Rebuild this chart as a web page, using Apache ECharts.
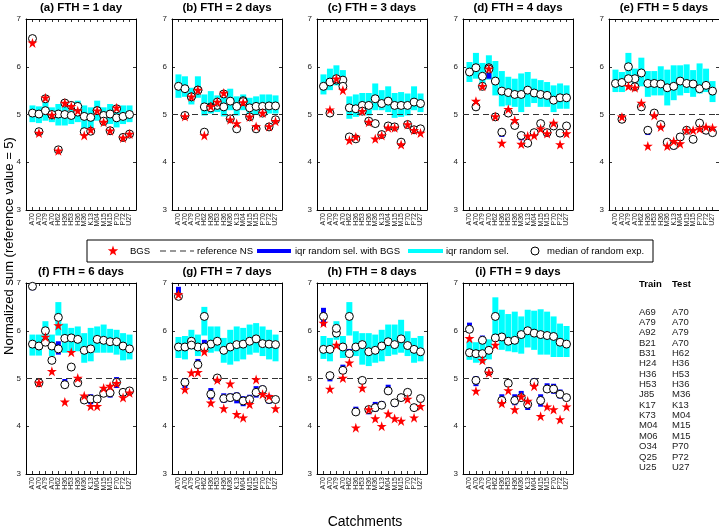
<!DOCTYPE html>
<html>
<head>
<meta charset="utf-8">
<script src="https://cdn.jsdelivr.net/npm/echarts@6/dist/echarts.min.js"></script>
<style>
  html, body { margin: 0; padding: 0; background: #fff; }
  #main { width: 719px; height: 532px; }
</style>
</head>
<body>
<div id="main"></div>
<script>
// catchments (test) on the x axis, train catchments for the side table
var testList = ['A70', 'A70', 'A79', 'A70', 'H62', 'H36', 'H53', 'H36', 'M36', 'K13', 'M04', 'M15', 'M15', 'P70', 'P72', 'U27'];
var trainList = ['A69', 'A79', 'A92', 'B21', 'B31', 'H24', 'H36', 'H53', 'J85', 'K17', 'K73', 'M04', 'M06', 'O34', 'Q25', 'U25'];
var panelTitles = ['(a) FTH = 1 day', '(b) FTH = 2 days', '(c) FTH = 3 days', '(d) FTH = 4 days', '(e) FTH = 5 days',
  '(f) FTH = 6 days', '(g) FTH = 7 days', '(h) FTH = 8 days', '(i) FTH = 9 days'];
var refValue = 5;

// (a) FTH = 1 day
var cyanLo_a = [4.84, 4.82, 4.87, 4.84, 4.77, 4.77, 4.80, 4.84, 4.70, 4.66, 4.87, 4.77, 4.80, 4.73, 4.80, 4.84];
var cyanHi_a = [5.19, 5.17, 5.26, 5.15, 5.22, 5.29, 5.26, 5.29, 5.19, 5.15, 5.29, 5.15, 5.22, 5.19, 5.19, 5.19];
var cyanMed_a = [5.03, 5.01, 5.08, 4.99, 5.01, 5.00, 4.98, 5.05, 4.96, 4.94, 5.08, 4.98, 5.01, 4.93, 4.96, 5.00];
var blueLo_a = [6.56, 4.61, 5.30, 4.97, 4.23, 5.21, 5.16, 5.14, 4.61, 4.62, 5.05, 4.83, 4.63, 5.09, 4.49, 4.56];
var blueHi_a = [6.62, 4.67, 5.36, 5.03, 4.29, 5.27, 5.22, 5.20, 4.67, 4.68, 5.11, 4.89, 4.69, 5.15, 4.55, 4.62];
var blueMed_a = [6.59, 4.64, 5.33, 5.00, 4.26, 5.24, 5.19, 5.17, 4.64, 4.65, 5.08, 4.86, 4.66, 5.12, 4.52, 4.59];
var bgs_a = [6.50, 4.61, 5.35, 4.99, 4.24, 5.24, 5.17, 5.08, 4.56, 4.68, 5.08, 4.84, 4.66, 5.14, 4.51, 4.59];

// (b) FTH = 2 days
var cyanLo_b = [5.35, 5.37, 5.21, 5.35, 4.98, 5.02, 5.05, 4.96, 5.09, 4.98, 5.09, 4.98, 5.00, 5.02, 5.02, 5.02];
var cyanHi_b = [5.84, 5.80, 5.56, 5.80, 5.42, 5.49, 5.40, 5.42, 5.54, 5.38, 5.42, 5.35, 5.38, 5.42, 5.42, 5.40];
var cyanMed_b = [5.59, 5.54, 5.37, 5.51, 5.16, 5.16, 5.19, 5.16, 5.28, 5.17, 5.29, 5.14, 5.17, 5.17, 5.18, 5.18];
var blueLo_b = [null, 4.95, 5.34, 5.48, 4.60, 5.11, 5.23, 5.40, 4.88, 4.67, 5.24, 4.92, 4.67, 5.00, 4.71, 4.86];
var blueHi_b = [null, 5.01, 5.40, 5.54, 4.66, 5.17, 5.29, 5.46, 4.94, 4.73, 5.30, 4.98, 4.73, 5.06, 4.77, 4.92];
var blueMed_b = [null, 4.98, 5.37, 5.51, 4.63, 5.14, 5.26, 5.43, 4.91, 4.70, 5.27, 4.95, 4.70, 5.03, 4.74, 4.89];
var bgs_b = [null, 4.96, 5.37, 5.51, 4.56, 5.17, 5.26, 5.45, 4.89, 4.81, 5.25, 4.95, 4.75, 5.03, 4.75, 4.86];

// (c) FTH = 3 days
var cyanLo_c = [5.42, 5.51, 5.61, 5.58, 4.91, 4.95, 5.02, 4.98, 5.09, 5.09, 5.05, 4.93, 4.95, 4.98, 5.09, 5.05];
var cyanHi_c = [5.84, 5.96, 6.03, 5.93, 5.38, 5.42, 5.45, 5.45, 5.65, 5.51, 5.59, 5.45, 5.47, 5.44, 5.59, 5.44];
var cyanMed_c = [5.59, 5.68, 5.72, 5.72, 5.14, 5.12, 5.19, 5.19, 5.33, 5.23, 5.28, 5.19, 5.19, 5.19, 5.26, 5.23];
var blueLo_c = [null, 5.00, 5.72, 5.56, 4.50, 4.46, 5.04, 4.83, 4.78, 4.55, 4.73, 4.71, 4.39, 4.76, 4.65, 4.67];
var blueHi_c = [null, 5.06, 5.78, 5.62, 4.56, 4.52, 5.10, 4.89, 4.84, 4.61, 4.79, 4.77, 4.45, 4.82, 4.71, 4.73];
var blueMed_c = [null, 5.03, 5.75, 5.59, 4.53, 4.49, 5.07, 4.86, 4.81, 4.58, 4.76, 4.74, 4.42, 4.79, 4.68, 4.70];
var bgs_c = [null, 5.10, 5.75, 5.51, 4.46, 4.53, 5.07, 4.84, 4.49, 4.56, 4.72, 4.72, 4.37, 4.79, 4.67, 4.61];

// (d) FTH = 4 days
var cyanLo_d = [5.68, 5.75, 5.58, 5.73, 5.40, 5.17, 5.19, 5.16, 5.05, 5.16, 5.24, 5.16, 5.16, 5.05, 5.12, 5.12];
var cyanHi_d = [6.10, 6.29, 6.08, 6.24, 6.12, 5.91, 5.79, 5.75, 5.86, 5.89, 5.75, 5.72, 5.68, 5.61, 5.65, 5.61];
var cyanMed_d = [5.89, 5.98, 5.80, 5.98, 5.70, 5.49, 5.46, 5.42, 5.42, 5.51, 5.45, 5.42, 5.40, 5.30, 5.35, 5.35];
var blueLo_d = [null, 5.10, 5.52, 5.75, 4.92, 4.53, 5.00, 4.74, 4.46, 4.32, 4.58, 4.74, 4.53, 4.73, 4.53, 4.73];
var blueHi_d = [null, 5.20, 5.65, 6.00, 5.02, 4.70, 5.06, 4.80, 4.60, 4.46, 4.67, 4.84, 4.67, 4.79, 4.65, 4.79];
var blueMed_d = [null, 5.16, 5.59, 5.95, 4.95, 4.63, 5.03, 4.77, 4.56, 4.40, 4.62, 4.81, 4.62, 4.76, 4.61, 4.76];
var bgs_d = [null, 5.28, 5.59, 5.96, 4.96, 4.40, 5.11, 4.88, 4.38, 4.55, 4.56, 4.70, 4.60, 4.82, 4.37, 4.60];

// (e) FTH = 5 days
var cyanLo_e = [5.47, 5.47, 5.72, 5.54, 5.59, 5.37, 5.40, 5.40, 5.19, 5.30, 5.40, 5.45, 5.37, 5.44, 5.47, 5.26];
var cyanHi_e = [5.94, 5.89, 6.29, 5.96, 6.19, 5.91, 5.91, 6.01, 5.94, 6.03, 6.03, 6.05, 5.93, 6.07, 5.96, 5.70];
var cyanMed_e = [5.65, 5.67, 6.00, 5.75, 5.87, 5.65, 5.65, 5.64, 5.56, 5.59, 5.70, 5.65, 5.64, 5.54, 5.61, 5.49];
var blueLo_e = [null, 4.86, 5.70, 5.54, 5.10, 4.57, 5.00, 4.70, 4.38, 4.27, 4.49, 4.61, 4.45, 4.79, 4.59, 4.59];
var blueHi_e = [null, 4.94, 5.80, 5.62, 5.20, 4.70, 5.06, 4.82, 4.46, 4.39, 4.60, 4.70, 4.51, 4.85, 4.70, 4.65];
var blueMed_e = [null, 4.90, 5.75, 5.58, 5.16, 4.67, 5.03, 4.79, 4.42, 4.35, 4.53, 4.67, 4.48, 4.82, 4.67, 4.62];
var bgs_e = [null, 4.95, 5.59, 5.56, 5.24, 4.34, 4.98, 4.74, 4.34, 4.44, 4.39, 4.67, 4.67, 4.70, 4.74, 4.72];

// (f) FTH = 6 days
var cyanLo_f = [5.48, 5.48, 5.71, 5.47, 5.90, 5.54, 5.57, 5.57, 5.33, 5.36, 5.54, 5.54, 5.54, 5.50, 5.38, 5.40];
var cyanHi_f = [5.92, 5.92, 6.20, 5.92, 6.60, 6.15, 6.06, 6.09, 5.95, 6.06, 6.09, 6.13, 6.04, 6.02, 5.95, 5.92];
var cyanMed_f = [5.72, 5.68, 6.00, 5.68, 6.28, 5.84, 5.85, 5.82, 5.59, 5.62, 5.82, 5.80, 5.77, 5.77, 5.68, 5.62];
var blueLo_f = [6.85, 4.84, 5.70, 5.33, 5.50, 4.80, 5.21, 4.84, 4.48, 4.46, 4.50, 4.64, 4.60, 4.80, 4.63, 4.67];
var blueHi_f = [6.97, 4.97, 5.82, 5.43, 5.78, 4.99, 5.27, 4.94, 4.60, 4.67, 4.63, 4.74, 4.75, 5.03, 4.76, 4.79];
var blueMed_f = [6.93, 4.91, 5.76, 5.38, 5.62, 4.87, 5.24, 4.91, 4.55, 4.57, 4.57, 4.69, 4.70, 4.92, 4.71, 4.74];
var bgs_f = [null, 4.91, 5.87, 5.15, 6.11, 4.51, 5.55, 5.01, 4.64, 4.42, 4.42, 4.80, 4.84, 4.90, 4.60, 4.70];

// (g) FTH = 7 days
var cyanLo_g = [5.43, 5.40, 5.61, 5.47, 5.90, 5.54, 5.57, 5.33, 5.29, 5.36, 5.40, 5.50, 5.54, 5.47, 5.40, 5.36];
var cyanHi_g = [5.87, 5.89, 6.02, 5.92, 6.50, 6.09, 6.09, 5.85, 6.02, 6.09, 6.06, 6.13, 6.16, 6.09, 6.02, 5.92];
var cyanMed_g = [5.66, 5.66, 5.78, 5.66, 6.30, 5.72, 5.78, 5.59, 5.66, 5.71, 5.72, 5.78, 5.83, 5.73, 5.72, 5.71];
var blueLo_g = [6.65, 4.80, 5.62, 5.26, 5.60, 4.56, 4.95, 4.49, 4.52, 4.48, 4.42, 4.47, 4.60, 4.68, 4.47, 4.50];
var blueHi_g = [6.92, 5.01, 5.75, 5.41, 5.81, 4.80, 5.06, 4.69, 4.69, 4.71, 4.63, 4.66, 4.84, 4.85, 4.66, 4.62];
var blueMed_g = [6.72, 4.92, 5.70, 5.29, 5.66, 4.67, 5.01, 4.58, 4.60, 4.62, 4.53, 4.56, 4.71, 4.77, 4.56, 4.56];
var bgs_g = [6.76, 4.77, 5.12, 5.13, 5.56, 4.49, 4.97, 4.37, 4.89, 4.25, 4.18, 4.46, 4.98, 4.67, 4.63, 4.37];

// (h) FTH = 8 days
var cyanLo_h = [5.41, 5.36, 5.81, 5.43, 5.90, 5.47, 5.29, 5.26, 5.33, 5.36, 5.47, 5.50, 5.54, 5.47, 5.33, 5.36];
var cyanHi_h = [5.89, 5.85, 6.20, 5.89, 6.60, 5.99, 5.95, 5.95, 5.92, 6.02, 6.13, 6.13, 6.23, 5.99, 5.85, 5.89];
var cyanMed_h = [5.61, 5.61, 5.95, 5.66, 6.30, 5.66, 5.71, 5.56, 5.59, 5.68, 5.77, 5.71, 5.83, 5.69, 5.61, 5.56];
var blueLo_h = [6.10, 4.94, 6.00, 5.12, 5.45, 4.25, 4.91, 4.25, 4.30, 4.37, 4.67, 4.41, 4.53, 4.64, 4.34, 4.53];
var blueHi_h = [6.48, 5.12, 6.12, 5.29, 5.62, 4.41, 5.01, 4.41, 4.51, 4.53, 4.87, 4.56, 4.67, 4.78, 4.44, 4.63];
var blueMed_h = [6.30, 5.06, 6.05, 5.17, 5.52, 4.30, 4.96, 4.35, 4.39, 4.44, 4.74, 4.49, 4.60, 4.71, 4.39, 4.58];
var bgs_h = [6.16, 4.78, 5.70, 5.01, 5.33, 3.97, 4.80, 4.35, 4.16, 4.00, 4.26, 4.16, 4.11, 4.57, 4.18, 4.42];

// (i) FTH = 9 days
var cyanLo_i = [5.39, 5.33, 5.33, 5.40, 5.90, 5.60, 5.57, 5.55, 5.52, 5.65, 5.60, 5.50, 5.50, 5.45, 5.45, 5.45];
var cyanHi_i = [5.78, 5.76, 5.75, 5.82, 6.70, 6.44, 6.35, 6.40, 6.30, 6.44, 6.42, 6.45, 6.40, 6.30, 6.15, 6.10];
var cyanMed_i = [5.54, 5.52, 5.52, 5.59, 6.30, 5.87, 5.78, 5.80, 5.92, 6.00, 5.95, 5.92, 5.90, 5.88, 5.76, 5.72];
var blueLo_i = [5.96, 4.84, 5.76, 5.08, 5.78, 4.49, 4.84, 4.44, 4.53, 4.34, 4.84, 4.41, 4.71, 4.68, 4.58, 4.53];
var blueHi_i = [6.17, 5.05, 5.90, 5.24, 5.92, 4.67, 4.97, 4.67, 4.74, 4.53, 5.01, 4.67, 4.90, 4.89, 4.77, 4.67];
var blueMed_i = [6.03, 4.96, 5.80, 5.15, 5.85, 4.54, 4.90, 4.54, 4.60, 4.46, 4.92, 4.54, 4.78, 4.78, 4.67, 4.60];
var bgs_i = [5.84, 4.74, 5.38, 5.12, 5.70, 4.48, 4.75, 4.35, 4.62, 4.53, 4.84, 4.21, 4.41, 4.35, 4.14, 4.41];

var panels = [
  [cyanLo_a, cyanHi_a, cyanMed_a, blueLo_a, blueHi_a, blueMed_a, bgs_a],
  [cyanLo_b, cyanHi_b, cyanMed_b, blueLo_b, blueHi_b, blueMed_b, bgs_b],
  [cyanLo_c, cyanHi_c, cyanMed_c, blueLo_c, blueHi_c, blueMed_c, bgs_c],
  [cyanLo_d, cyanHi_d, cyanMed_d, blueLo_d, blueHi_d, blueMed_d, bgs_d],
  [cyanLo_e, cyanHi_e, cyanMed_e, blueLo_e, blueHi_e, blueMed_e, bgs_e],
  [cyanLo_f, cyanHi_f, cyanMed_f, blueLo_f, blueHi_f, blueMed_f, bgs_f],
  [cyanLo_g, cyanHi_g, cyanMed_g, blueLo_g, blueHi_g, blueMed_g, bgs_g],
  [cyanLo_h, cyanHi_h, cyanMed_h, blueLo_h, blueHi_h, blueMed_h, bgs_h],
  [cyanLo_i, cyanHi_i, cyanMed_i, blueLo_i, blueHi_i, blueMed_i, bgs_i]
];

var FONT = '"Liberation Sans", Arial, sans-serif';
var CYAN = '#00ffff';
var BLUE = '#0000ff';
var RED = '#ff0000';
var STAR = 'path://M50,0 L61.8,35.4 L100,35.4 L69.1,57.3 L80.9,95.1 L50,72.4 L19.1,95.1 L30.9,57.3 L0,35.4 L38.2,35.4 Z';

var colLeft = [26, 172, 317, 463, 609];
var plotW = 110;
var rowTop = [19, 283];
var plotH = 191;

var chart = echarts.init(document.getElementById('main'), null, { renderer: 'canvas' });

function rangeData(lo, hi) {
  var out = [];
  for (var k = 0; k < lo.length; k++) {
    if (lo[k] != null) out.push([k + 1, lo[k], hi[k]]);
  }
  return out;
}

function pointData(arr) {
  var out = [];
  for (var k = 0; k < arr.length; k++) {
    if (arr[k] != null) out.push([k + 1, arr[k]]);
  }
  return out;
}

function barRender(color, w) {
  return function (params, api) {
    var x = api.value(0);
    var p1 = api.coord([x, api.value(1)]);
    var p2 = api.coord([x, api.value(2)]);
    return {
      type: 'rect',
      shape: { x: p1[0] - w / 2, y: p2[1], width: w, height: p1[1] - p2[1] },
      style: { fill: color }
    };
  };
}

var option = {
  animation: false,
  backgroundColor: '#fff',
  grid: [],
  xAxis: [],
  yAxis: [],
  series: [],
  graphic: []
};

panels.forEach(function (p, gi) {
  var row = gi < 5 ? 0 : 1;
  var col = gi < 5 ? gi : gi - 5;
  var left = colLeft[col];
  var top = rowTop[row];

  option.grid.push({ left: left, top: top, width: plotW, height: plotH, containLabel: false });

  var axLine = { show: true, onZero: false, lineStyle: { color: '#000', width: 1 } };
  var axTick = { show: true, inside: true, length: 3, lineStyle: { color: '#000', width: 0.8 } };

  option.xAxis.push({
    gridIndex: gi, type: 'value', min: 0, max: 17, interval: 1, position: 'bottom',
    axisLine: axLine, axisTick: axTick, splitLine: { show: false },
    axisLabel: {
      rotate: 90, fontSize: 7, margin: 3, color: '#222', fontFamily: FONT,
      formatter: function (v) { return (v >= 1 && v <= 16) ? testList[v - 1] : ''; }
    }
  });
  option.xAxis.push({
    gridIndex: gi, type: 'value', min: 0, max: 17, interval: 1, position: 'top',
    axisLine: axLine, axisTick: axTick, splitLine: { show: false }, axisLabel: { show: false }
  });
  option.yAxis.push({
    gridIndex: gi, type: 'value', min: 3, max: 7, interval: 1, position: 'left',
    axisLine: axLine, axisTick: axTick, splitLine: { show: false },
    axisLabel: { fontSize: 8, margin: 5, color: '#222', fontFamily: FONT }
  });
  option.yAxis.push({
    gridIndex: gi, type: 'value', min: 3, max: 7, interval: 1, position: 'right',
    axisLine: axLine, axisTick: axTick, splitLine: { show: false }, axisLabel: { show: false }
  });

  var xi = gi * 2, yi = gi * 2;

  // iqr random sel.
  option.series.push({
    type: 'custom', name: 'iqr random sel.', xAxisIndex: xi, yAxisIndex: yi, z: 1, clip: true,
    renderItem: barRender(CYAN, 6), data: rangeData(p[0], p[1])
  });
  // reference NS
  option.series.push({
    type: 'line', name: 'reference NS', xAxisIndex: xi, yAxisIndex: yi, z: 2,
    symbol: 'none', data: [[0, refValue], [17, refValue]],
    lineStyle: { color: '#333', width: 1.2, type: [6, 4] }
  });
  // iqr random sel. with BGS
  option.series.push({
    type: 'custom', name: 'iqr random sel. with BGS', xAxisIndex: xi, yAxisIndex: yi, z: 3, clip: true,
    renderItem: barRender(BLUE, 5), data: rangeData(p[3], p[4])
  });
  // medians of random experiments
  option.series.push({
    type: 'scatter', name: 'median of random exp.', xAxisIndex: xi, yAxisIndex: yi, z: 4,
    symbol: 'circle', symbolSize: 8, data: pointData(p[2]),
    itemStyle: { color: '#fff', borderColor: '#000', borderWidth: 1, opacity: 1 }
  });
  option.series.push({
    type: 'scatter', name: 'median with BGS', xAxisIndex: xi, yAxisIndex: yi, z: 5,
    symbol: 'circle', symbolSize: 8, data: pointData(p[5]),
    itemStyle: { color: '#fff', borderColor: '#000', borderWidth: 1, opacity: 1 }
  });
  // BGS
  option.series.push({
    type: 'scatter', name: 'BGS', xAxisIndex: xi, yAxisIndex: yi, z: 6,
    symbol: STAR, symbolSize: 10, data: pointData(p[6]),
    itemStyle: { color: RED, opacity: 1 }
  });

  // panel title
  option.graphic.push({
    type: 'text', x: left + plotW / 2, y: top - 11,
    style: { text: panelTitles[gi], font: 'bold 11.5px ' + FONT, fill: '#000', textAlign: 'center', textVerticalAlign: 'middle' }
  });
});

// axis titles
option.graphic.push({
  type: 'text', x: 9, y: 246, rotation: Math.PI / 2,
  style: { text: 'Normalized sum (reference value = 5)', font: '13px ' + FONT, fill: '#000', textAlign: 'center', textVerticalAlign: 'middle' }
});
option.graphic.push({
  type: 'text', x: 365, y: 522,
  style: { text: 'Catchments', font: '14px ' + FONT, fill: '#000', textAlign: 'center', textVerticalAlign: 'middle' }
});

// legend box
var ly = 251;
function starPoints(cx, cy, r) {
  var pts = [];
  for (var k = 0; k < 10; k++) {
    var a = -Math.PI / 2 + k * Math.PI / 5;
    var rr = k % 2 === 0 ? r : r * 0.4;
    pts.push([cx + rr * Math.cos(a), cy + rr * Math.sin(a)]);
  }
  return pts;
}
option.graphic.push({ type: 'rect', shape: { x: 87, y: 240, width: 566, height: 22 }, style: { fill: '#fff', stroke: '#000', lineWidth: 1 }, z: 10 });
option.graphic.push({ type: 'polygon', shape: { points: starPoints(113, ly, 5.5) }, style: { fill: RED }, z: 11 });
option.graphic.push({ type: 'line', shape: { x1: 160, y1: ly, x2: 194, y2: ly }, style: { stroke: '#333', lineWidth: 1.2, lineDash: [6, 4] }, z: 11 });
option.graphic.push({ type: 'line', shape: { x1: 257, y1: ly, x2: 291, y2: ly }, style: { stroke: BLUE, lineWidth: 4 }, z: 11 });
option.graphic.push({ type: 'line', shape: { x1: 408, y1: ly, x2: 443, y2: ly }, style: { stroke: CYAN, lineWidth: 4 }, z: 11 });
option.graphic.push({ type: 'circle', shape: { cx: 535, cy: ly, r: 4 }, style: { fill: '#fff', stroke: '#000', lineWidth: 1 }, z: 11 });
var legendTexts = [['BGS', 130], ['reference NS', 197], ['iqr random sel. with BGS', 295], ['iqr random sel.', 446], ['median of random exp.', 547]];
legendTexts.forEach(function (t) {
  option.graphic.push({
    type: 'text', x: t[1], y: ly, z: 11,
    style: { text: t[0], font: '9.5px ' + FONT, fill: '#000', textAlign: 'left', textVerticalAlign: 'middle' }
  });
});

// train / test table
option.graphic.push({ type: 'text', x: 639, y: 284, style: { text: 'Train', font: 'bold 9.5px ' + FONT, fill: '#000', textVerticalAlign: 'middle' } });
option.graphic.push({ type: 'text', x: 672, y: 284, style: { text: 'Test', font: 'bold 9.5px ' + FONT, fill: '#000', textVerticalAlign: 'middle' } });
for (var k = 0; k < trainList.length; k++) {
  var ty = 312 + k * 10.35;
  option.graphic.push({ type: 'text', x: 639, y: ty, style: { text: trainList[k], font: '9.5px ' + FONT, fill: '#222', textVerticalAlign: 'middle' } });
  option.graphic.push({ type: 'text', x: 672, y: ty, style: { text: testList[k], font: '9.5px ' + FONT, fill: '#222', textVerticalAlign: 'middle' } });
}

chart.setOption(option);
</script>
</body>
</html>
